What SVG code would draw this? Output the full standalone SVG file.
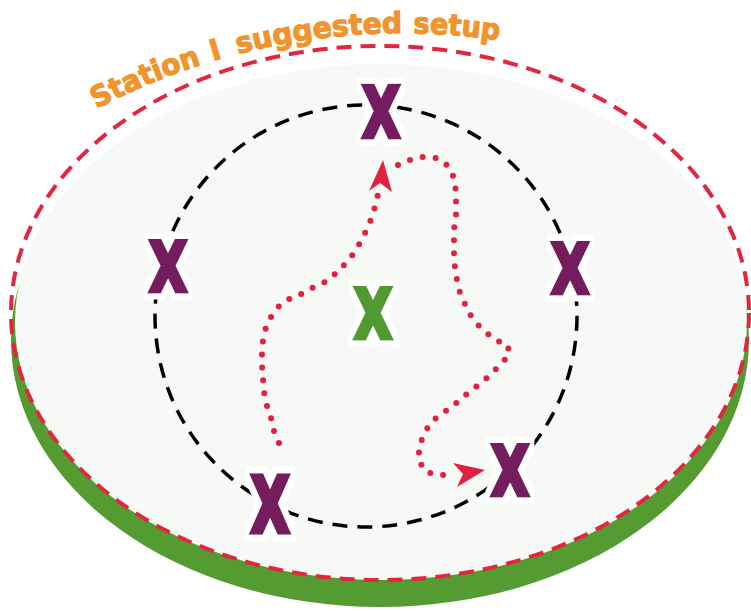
<svg xmlns="http://www.w3.org/2000/svg" width="751" height="611" viewBox="0 0 751 611">
<style>
.xm{font-family:"DejaVu Sans","Liberation Sans",sans-serif;font-weight:bold;font-size:67px;text-anchor:middle;stroke-linejoin:miter;filter:url(#halo)}
.pu{fill:#741e5f;stroke:#741e5f;stroke-width:5px}
.gr{fill:#519a33;stroke:#519a33;stroke-width:5px}
.dots{fill:none;stroke:#e0213f;stroke-width:6;stroke-linecap:round;stroke-dasharray:0 13}
.arrow{fill:#e0213f}
.ttl{font-family:"DejaVu Sans","Liberation Sans",sans-serif;font-weight:bold;font-size:29px;fill:#f0942d;stroke:#f0942d;stroke-width:1.2px}
</style>
<defs>
<path id="titlePath" d="M 80 118 A 652 652 0 0 1 540 48"/>
<filter id="halo" x="-30%" y="-30%" width="160%" height="160%">
<feMorphology in="SourceAlpha" operator="dilate" radius="6" result="d"/>
<feFlood flood-color="#ffffff"/>
<feComposite in2="d" operator="in" result="w"/>
<feMerge><feMergeNode in="w"/><feMergeNode in="SourceGraphic"/></feMerge>
</filter>
</defs>
<rect width="751" height="611" fill="#ffffff"/>
<g id="base">
<ellipse cx="380" cy="340" rx="369" ry="267" fill="#549b32"/>
<ellipse cx="381" cy="322" rx="366" ry="258" fill="#f7f9f7"/>
<ellipse cx="380" cy="313" rx="369" ry="267" fill="none" stroke="#e3263f" stroke-width="4" stroke-dasharray="15 9"/>
</g>
<g id="circle">
<circle cx="366" cy="316" r="211" fill="none" stroke="#000000" stroke-width="3.5" stroke-dasharray="15 10"/>
</g>
<g id="title">
<text class="ttl"><textPath href="#titlePath" startOffset="19" textLength="114" lengthAdjust="spacingAndGlyphs">Station</textPath></text>
<text class="ttl"><textPath href="#titlePath" startOffset="145" textLength="10" lengthAdjust="spacingAndGlyphs">I</textPath></text>
<text class="ttl"><textPath href="#titlePath" startOffset="171" textLength="166" lengthAdjust="spacingAndGlyphs">suggested</textPath></text>
<text class="ttl"><textPath href="#titlePath" startOffset="348" textLength="86" lengthAdjust="spacingAndGlyphs">setup</textPath></text>
</g>
<g id="connectors">
<path class="dots" d="M279 443 L274 431 L271 418 L267 406 L264 392 L263 379 L262 366 L262 353 L263 340 L266 327 L272 315 L280 305 L291 298 L301 294 L312 288 L325 282 L335 274 L345 264 L354 253 L361 241 L367 229 L372 217 L376 203 L379 190"/>
<polygon class="arrow" points="383,160 369,191 380,183 392,192"/>
<path class="dots" d="M398 165 L410 160 L423 157 L437 158 L448 166 L454 178 L456 192 L456 205 L456 217 L454 229 L454 242 L454 255 L455 268 L457 280 L460 293 L465 304 L471 316 L479 326 L488 334 L498 341 L508 345 L509 355 L500 365 L491 374 L481 383 L470 391 L460 400 L450 408 L439 416 L431 422 L424 434 L419 447 L419 461 L426 472 L440 475 L453 475"/>
<polygon class="arrow" points="485,470 453,463 463,474 457,487"/>
</g>
<g id="x-top"><text class="xm pu" transform="translate(381,137) scale(0.72,1.03)">X</text></g>
<g id="x-left"><text class="xm pu" transform="translate(168,291) scale(0.72,1)">X</text></g>
<g id="x-right"><text class="xm pu" transform="translate(570,293) scale(0.72,1)">X</text></g>
<g id="x-center"><text class="xm gr" transform="translate(373,338) scale(0.72,1)">X</text></g>
<g id="x-bottom-left"><text class="xm pu" transform="translate(270,532) scale(0.74,1.13)">X</text></g>
<g id="x-bottom-right"><text class="xm pu" transform="translate(510,495) scale(0.72,1)">X</text></g>
</svg>
